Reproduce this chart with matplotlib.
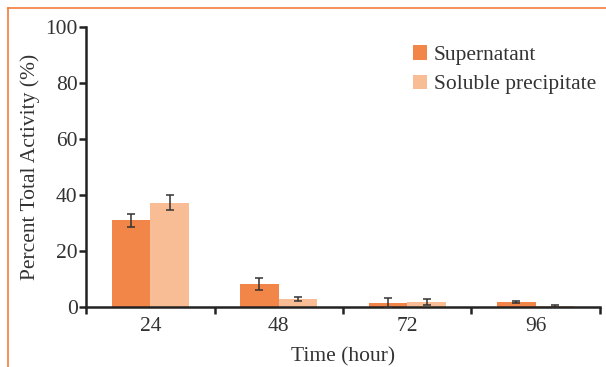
import numpy as np
import matplotlib.pyplot as plt
from matplotlib.lines import Line2D

plt.rcParams['font.family'] = ['Liberation Serif', 'DejaVu Serif']

# data
hours = ['24', '48', '72', '96']
supernatant = [31, 8.2, 1.5, 1.9]
supernatant_err = [2.4, 2.0, 1.7, 0.3]
precipitate = [37.3, 2.8, 1.9, 0.3]
precipitate_err = [2.6, 0.7, 1.1, 0.3]

c_sup = '#F28548'
c_pre = '#F9BD96'

fig = plt.figure(figsize=(6.06, 3.67), dpi=100)
ax = fig.add_axes([0.142, 0.1635, 0.848, 0.7625])

x = np.arange(len(hours))
w = 0.3
ax.bar(x - w / 2, supernatant, w, color=c_sup, label='Supernatant', zorder=2)
ax.bar(x + w / 2, precipitate, w, color=c_pre, label='Soluble precipitate', zorder=2)
ax.errorbar(x - w / 2, supernatant, yerr=supernatant_err, fmt='none',
            ecolor='#333333', elinewidth=1.1, capsize=3, capthick=1.1, zorder=3)
ax.errorbar(x + w / 2, precipitate, yerr=precipitate_err, fmt='none',
            ecolor='#333333', elinewidth=1.1, capsize=3, capthick=1.1, zorder=3)

ax.set_xlim(-0.5, 3.5)
ax.set_ylim(0, 100)
ax.set_yticks([0, 20, 40, 60, 80, 100])
ax.set_xticks(x)
ax.set_xticklabels(hours)
ax.set_xticks(np.arange(-0.5, 4, 1), minor=True)
ax.tick_params(axis='x', which='major', length=0, pad=7, labelsize=15.5, labelcolor='#333333')
ax.tick_params(axis='x', which='minor', length=5, width=1.8, color='#222222')
ax.tick_params(axis='y', length=5, width=1.8, color='#222222', labelsize=15.5,
               pad=1, labelcolor='#333333')

for s in ['top', 'right']:
    ax.spines[s].set_visible(False)
for s in ['left', 'bottom']:
    ax.spines[s].set_linewidth(1.8)
    ax.spines[s].set_color('#222222')

ax.set_ylabel('Percent Total Activity (%)', fontsize=15.5, labelpad=4, color='#333333')
ax.set_xlabel('Time (hour)', fontsize=15.5, labelpad=8, color='#333333')

ax.legend(loc='upper right', bbox_to_anchor=(1.03, 1.005), frameon=False,
          fontsize=15.5, handlelength=0.65, handleheight=0.65,
          handletextpad=0.3, labelspacing=0.45, labelcolor='#333333')

# orange frame around the figure
fig.add_artist(Line2D([8 / 606, 1], [1 - 8 / 367, 1 - 8 / 367], color='#F47B3A', lw=1.2))
fig.add_artist(Line2D([8 / 606, 8 / 606], [0, 1 - 8 / 367], color='#F47B3A', lw=1.2))

fig.savefig('out.png', dpi=100)
